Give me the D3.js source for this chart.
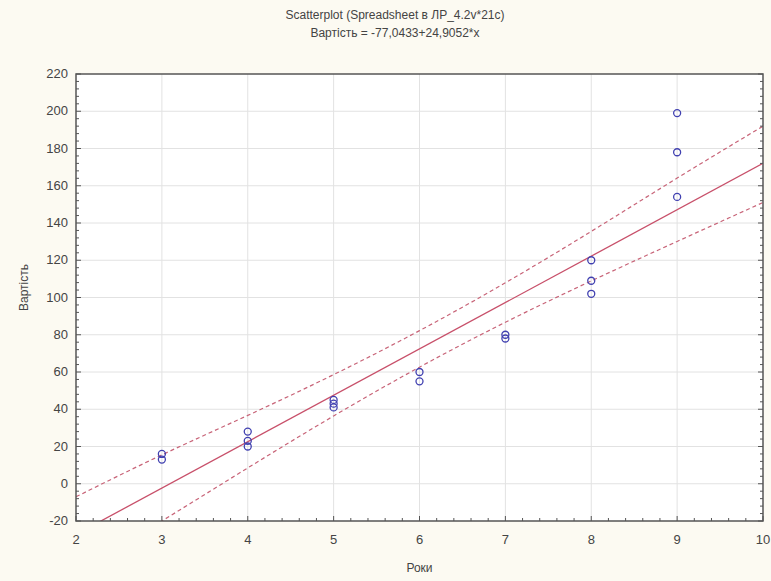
<!DOCTYPE html>
<html>
<head>
<meta charset="utf-8">
<script src="https://cdn.jsdelivr.net/npm/d3@7"></script>
<style>
  body { margin: 0; background: #fcfaf2; }
  svg text { font-family: "Liberation Sans", Arial, sans-serif; fill: #444; }
</style>
</head>
<body>
<div id="chart"></div>
<script>
// data
var pointsX = [3, 3, 4, 4, 4, 5, 5, 5, 6, 6, 7, 7, 8, 8, 8, 9, 9, 9];
var pointsY = [16, 13, 28, 23, 20, 45, 43, 41, 60, 55, 80, 78, 120, 109, 102, 199, 178, 154];

var intercept = -77.0433;
var slope = 24.9052;

var bandX = [2, 3, 4, 5, 6, 7, 8, 9, 10];
var bandUpper = [-7, 15.5, 36.7, 58.6, 82.2, 107.9, 135.5, 164.1, 192];
var bandLower = [-48, -20, 8.5, 36.4, 62.6, 86.7, 108.9, 130.1, 151];

var xTicks = [2, 3, 4, 5, 6, 7, 8, 9, 10];
var yTicks = [-20, 0, 20, 40, 60, 80, 100, 120, 140, 160, 180, 200, 220];

var titleLines = ["Scatterplot (Spreadsheet в ЛР_4.2v*21c)", "Вартість = -77,0433+24,9052*x"];
var xLabel = "Роки";
var yLabel = "Вартість";

var width = 771, height = 581;
var margin = {left: 76, right: 8, top: 74, bottom: 60};

var svg = d3.select("#chart").append("svg")
    .attr("width", width)
    .attr("height", height);

var x = d3.scaleLinear().domain([2, 10]).range([margin.left, width - margin.right]);
var y = d3.scaleLinear().domain([-20, 220]).range([height - margin.bottom, margin.top]);

// plot area
svg.append("rect")
    .attr("x", x(2)).attr("y", y(220))
    .attr("width", x(10) - x(2)).attr("height", y(-20) - y(220))
    .style("fill", "#fff");

svg.append("clipPath").attr("id", "clip")
    .append("rect")
    .attr("x", x(2)).attr("y", y(220))
    .attr("width", x(10) - x(2)).attr("height", y(-20) - y(220));

// grid
svg.append("g").selectAll("line").data(xTicks.slice(1, -1)).enter().append("line")
    .attr("x1", d => x(d)).attr("x2", d => x(d))
    .attr("y1", y(220)).attr("y2", y(-20))
    .style("stroke", "#e2e2e2");
svg.append("g").selectAll("line").data(yTicks.slice(1, -1)).enter().append("line")
    .attr("y1", d => y(d)).attr("y2", d => y(d))
    .attr("x1", x(2)).attr("x2", x(10))
    .style("stroke", "#e2e2e2");

var plot = svg.append("g").attr("clip-path", "url(#clip)");

var bandLine = function(vals) {
    return d3.line()
        .x((d, i) => x(bandX[i]))
        .y(d => y(d))
        .curve(d3.curveNatural)(vals);
};

plot.append("path").attr("d", bandLine(bandUpper))
    .style("fill", "none").style("stroke", "#c86478").style("stroke-width", 1.2)
    .style("stroke-dasharray", "4,3");
plot.append("path").attr("d", bandLine(bandLower))
    .style("fill", "none").style("stroke", "#c86478").style("stroke-width", 1.2)
    .style("stroke-dasharray", "4,3");

plot.append("line")
    .attr("x1", x(2)).attr("y1", y(intercept + slope * 2))
    .attr("x2", x(10)).attr("y2", y(intercept + slope * 10))
    .style("stroke", "#c8506a").style("stroke-width", 1.3);

plot.selectAll("circle").data(pointsX).enter().append("circle")
    .attr("cx", d => x(d))
    .attr("cy", (d, i) => y(pointsY[i]))
    .attr("r", 3.5)
    .style("fill", "none")
    .style("stroke", "#4040b0")
    .style("stroke-width", 1.3);

// axes
var axisColor = "#555";
var minorX = d3.range(2, 10.001, 0.2);
var minorY = d3.range(-20, 220.001, 4);

var frame = svg.append("g");
frame.append("rect")
    .attr("x", x(2)).attr("y", y(220))
    .attr("width", x(10) - x(2)).attr("height", y(-20) - y(220))
    .style("fill", "none").style("stroke", axisColor).style("stroke-width", 1.5);

frame.selectAll(".mx").data(minorX).enter().append("line")
    .attr("x1", d => x(d)).attr("x2", d => x(d))
    .attr("y1", y(-20)).attr("y2", d => y(-20) - (Math.abs(d - Math.round(d)) < 1e-6 ? 5 : 3))
    .style("stroke", axisColor);
frame.selectAll(".my").data(minorY).enter().append("line")
    .attr("y1", d => y(d)).attr("y2", d => y(d))
    .attr("x1", x(2)).attr("x2", d => x(2) + (d % 20 === 0 ? 5 : 3))
    .style("stroke", axisColor);
frame.selectAll(".my2").data(minorY).enter().append("line")
    .attr("y1", d => y(d)).attr("y2", d => y(d))
    .attr("x1", x(10)).attr("x2", d => x(10) - (d % 20 === 0 ? 5 : 3))
    .style("stroke", axisColor);

svg.append("g").selectAll("text").data(xTicks).enter().append("text")
    .attr("x", d => x(d)).attr("y", y(-20) + 23)
    .attr("text-anchor", "middle")
    .style("font-size", "13px")
    .text(d => d);

svg.append("g").selectAll("text").data(yTicks).enter().append("text")
    .attr("x", x(2) - 8).attr("y", d => y(d) + 4)
    .attr("text-anchor", "end")
    .style("font-size", "13px")
    .text(d => d);

svg.append("text")
    .attr("x", (x(2) + x(10)) / 2).attr("y", height - 9)
    .attr("text-anchor", "middle").style("font-size", "12px")
    .text(xLabel);

svg.append("text")
    .attr("transform", "translate(28," + (y(100) - 10) + ") rotate(-90)")
    .attr("text-anchor", "middle").style("font-size", "12px")
    .text(yLabel);

svg.append("g").selectAll("text").data(titleLines).enter().append("text")
    .attr("x", 395).attr("y", (d, i) => 19 + i * 18)
    .attr("text-anchor", "middle").style("font-size", "12px")
    .text(d => d);
</script>
</body>
</html>
